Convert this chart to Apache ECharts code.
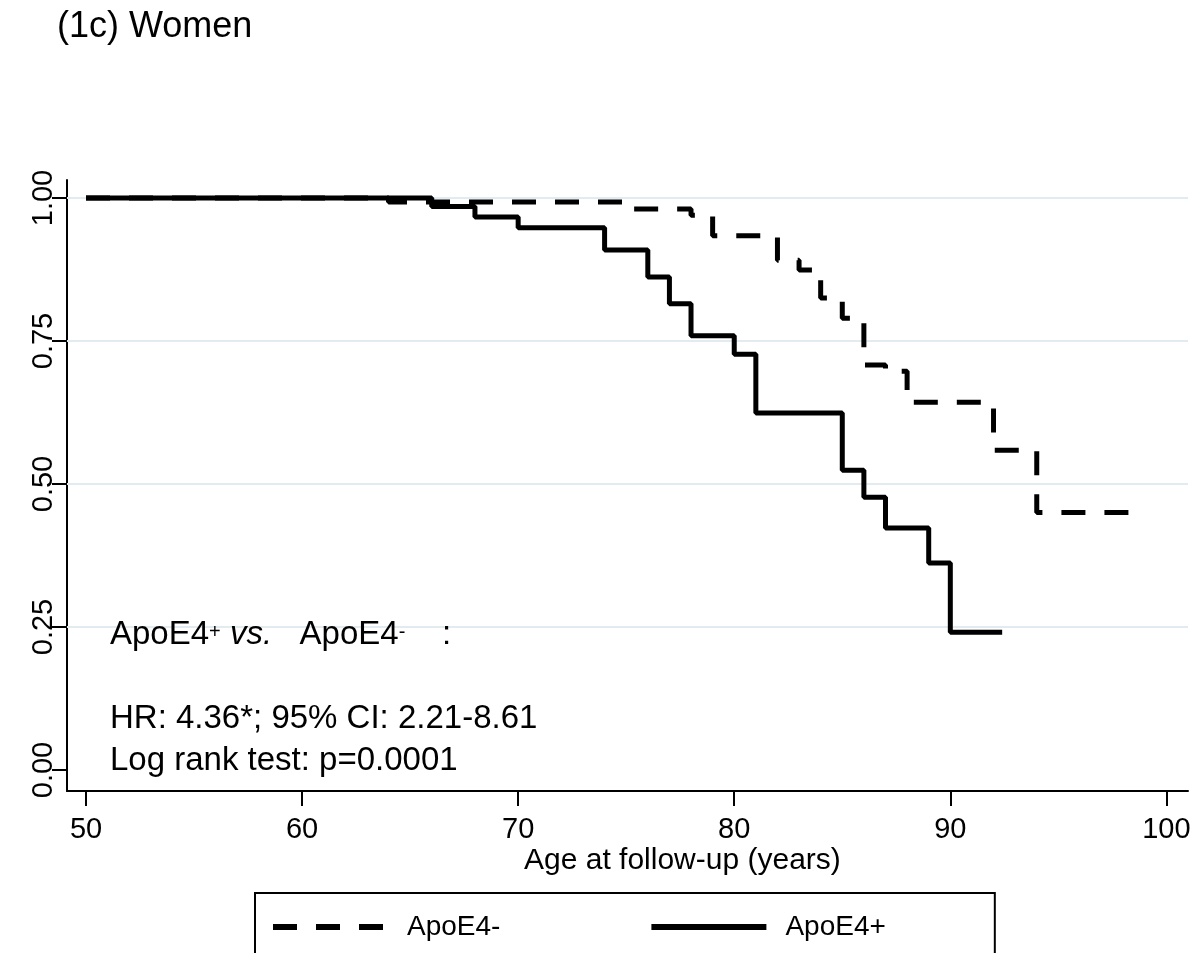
<!DOCTYPE html>
<html>
<head>
<meta charset="utf-8">
<script src="https://cdn.jsdelivr.net/npm/echarts@6/dist/echarts.min.js"></script>
<style>
  html, body { margin: 0; padding: 0; background: #fff; }
  #chart { width: 1204px; height: 953px; }
</style>
</head>
<body>
<div id="chart"></div>
<script>
// ---- data ----
const ageTicks = [50, 60, 70, 80, 90, 100];
const survTicks = [0, 0.25, 0.5, 0.75, 1.0];
const gridValues = [0.25, 0.5, 0.75, 1.0];

// ApoE4- (dashed)
const negAge  = [50, 64, 75, 78, 79, 82, 83, 84, 85, 86, 87, 88, 92, 94, 98.7];
const negSurv = [1.0, 0.993, 0.981, 0.970, 0.934, 0.891, 0.874, 0.825, 0.790, 0.708, 0.697, 0.643, 0.559, 0.450, 0.450];

// ApoE4+ (solid)
const posAge  = [50, 66, 68, 70, 74, 76, 77, 78, 80, 81, 85, 86, 87, 89, 90, 92.4];
const posSurv = [1.0, 0.985, 0.967, 0.948, 0.909, 0.862, 0.815, 0.759, 0.727, 0.624, 0.524, 0.477, 0.423, 0.362, 0.241, 0.241];

const seriesNames = ['ApoE4-', 'ApoE4+'];
const titleText = '(1c) Women';
const xTitle = 'Age at follow-up (years)';
const note1 = '{n|ApoE4}{s|+} {i|vs.}   {n|ApoE4}{s|-}    {n|:}';
const note2 = 'HR: 4.36*; 95% CI: 2.21-8.61';
const note3 = 'Log rank test: p=0.0001';

// ---- chart ----
const FONT = '"Liberation Sans", Arial, sans-serif';
const zip = (a, b) => a.map((v, i) => [v, b[i]]);

const chart = echarts.init(document.getElementById('chart'), null, { renderer: 'canvas' });

const baseText = { fontWeight: 'normal', color: '#000', fontFamily: FONT };

const option = {
  animation: false,
  backgroundColor: '#ffffff',
  textStyle: { fontFamily: FONT, color: '#000' },
  title: [
    { text: titleText, left: 57, top: 9, padding: 0, textStyle: Object.assign({ fontSize: 36 }, baseText) },
    { text: xTitle, left: 524, top: 846, padding: 0, textStyle: Object.assign({ fontSize: 30 }, baseText) },
    { text: note1, left: 110, top: 618, padding: 0, textStyle: Object.assign({
        fontSize: 33,
        rich: {
          n: { fontSize: 33, color: '#000', fontFamily: FONT },
          i: { fontSize: 33, color: '#000', fontFamily: FONT, fontStyle: 'italic' },
          s: { fontSize: 20, color: '#000', fontFamily: FONT, padding: [0, 0, 4, 0] }
        } }, baseText) },
    { text: note2, left: 110, top: 702, padding: 0, textStyle: Object.assign({ fontSize: 33 }, baseText) },
    { text: note3, left: 110, top: 744, padding: 0, textStyle: Object.assign({ fontSize: 33 }, baseText) }
  ],
  legend: {
    data: seriesNames,
    left: 255,
    top: 893,
    orient: 'horizontal',
    itemWidth: 115,
    itemHeight: 14,
    itemGap: 148,
    padding: [20, 109, 20, 15],
    borderColor: '#000',
    borderWidth: 2,
    itemStyle: { opacity: 0 },
    lineStyle: { width: 6 },
    textStyle: { fontSize: 28, color: '#000', fontFamily: FONT, padding: [0, 0, 0, 14] }
  },
  grid: { left: 67, right: 16, top: 180, bottom: 162, containLabel: false },
  xAxis: {
    type: 'value',
    min: 49.12,
    max: 101.0,
    axisLine: { show: true, onZero: false, lineStyle: { color: '#000', width: 2 } },
    axisTick: { show: true, customValues: ageTicks, length: 15, lineStyle: { color: '#000', width: 2 } },
    axisLabel: { show: true, customValues: ageTicks, fontSize: 29, margin: 24, color: '#000', fontFamily: FONT },
    splitLine: { show: false }
  },
  yAxis: {
    type: 'value',
    min: -0.0367,
    max: 1.0315,
    axisLine: { show: true, onZero: false, lineStyle: { color: '#000', width: 2 } },
    axisTick: { show: true, customValues: survTicks, length: 15, lineStyle: { color: '#000', width: 2 } },
    axisLabel: { show: true, customValues: survTicks, rotate: 90, fontSize: 29, margin: 9, color: '#000', fontFamily: FONT,
      formatter: v => Number(v).toFixed(2) },
    splitLine: { show: false }
  },
  series: [
    {
      name: '_grid',
      type: 'line',
      data: [],
      silent: true,
      z: 1,
      markLine: {
        z: 1,
        silent: true,
        symbol: ['none', 'none'],
        label: { show: false },
        lineStyle: { color: '#e2ecf0', width: 2, type: 'solid' },
        data: gridValues.map(v => ({ yAxis: v }))
      }
    },
    {
      name: seriesNames[0],
      type: 'line',
      step: 'end',
      symbol: 'none',
      z: 3,
      data: zip(negAge, negSurv),
      lineStyle: { color: '#000', width: 5, type: [24, 19], cap: 'butt' },
      itemStyle: { color: '#000' }
    },
    {
      name: seriesNames[1],
      type: 'line',
      step: 'end',
      symbol: 'none',
      z: 4,
      data: zip(posAge, posSurv),
      lineStyle: { color: '#000', width: 5, type: 'solid' },
      itemStyle: { color: '#000' }
    }
  ]
};
chart.setOption(option);
</script>
</body>
</html>
